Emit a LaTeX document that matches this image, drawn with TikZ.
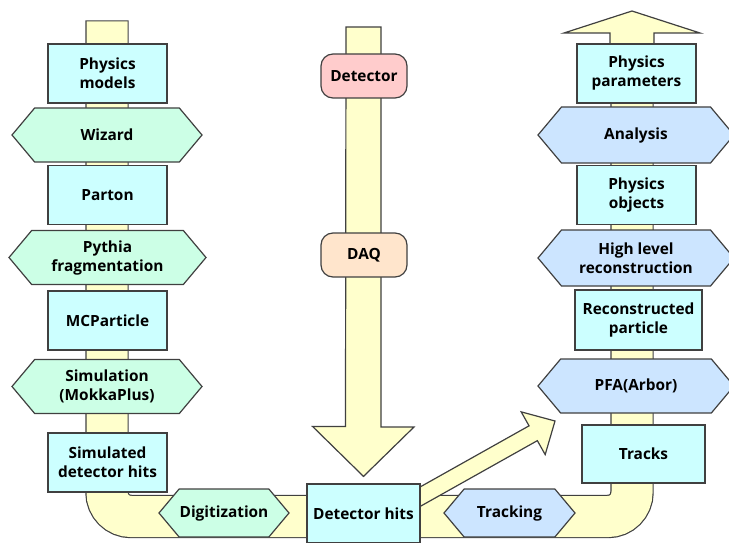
\documentclass[tikz,border=0pt]{standalone}
\usepackage{fontspec}
\setsansfont{Open Sans}
\usetikzlibrary{shapes.symbols,backgrounds,calc}

\definecolor{tubeyellow}{HTML}{FFFFCC}
\definecolor{boxcyan}{HTML}{CCFFFF}
\definecolor{hexgreen}{HTML}{CCFFE6}
\definecolor{hexblue}{HTML}{CCE5FF}
\definecolor{detpink}{HTML}{FFCCCC}
\definecolor{daqpeach}{HTML}{FFE5CC}
\definecolor{edge}{HTML}{404040}

\tikzset{
  txt/.style={font=\sffamily\bfseries\fontsize{15.4}{19}\selectfont},
  box/.style={draw=edge, line width=1.2pt, fill=boxcyan, align=center,
    inner sep=0pt, minimum width=119pt, minimum height=59pt, txt},
  hex/.style={signal, signal to=west and east, signal pointer angle=100,
    draw=edge, line width=1.2pt, align=center, inner sep=0pt,
    minimum width=190pt, minimum height=54pt, txt},
  simhex/.style={hex, fill=hexgreen},
  recohex/.style={hex, fill=hexblue},
  pill/.style={draw=edge, line width=1.2pt, rounded corners=12pt, align=center,
    inner sep=0pt, minimum width=86pt, minimum height=44pt, txt},
  tube/.style={draw=edge, line width=1.2pt, double=tubeyellow,
    double distance=41pt, line cap=rect, rounded corners=24pt},
  bigarrow/.style={draw=edge, line width=1.2pt, fill=tubeyellow, line join=miter},
}

\begin{document}
\begin{tikzpicture}[x=1pt, y=-1pt]

\useasboundingbox (0,0) rectangle (729,543);

% Generator chain (left)
\node[box] (physmod) at (107.5,73.5) {Physics\\models};
\node[simhex] (wizard) at (107,135) {Wizard};
\node[box] (parton) at (107.5,195) {Parton};
\node[simhex, minimum width=197pt] (pythia) at (107.5,257.5) {Pythia\\fragmentation};
\node[box] (mcpart) at (107.5,320.5) {MCParticle};
\node[simhex] (simul) at (107,386.5) {Simulation\\(MokkaPlus)};
\node[box] (simhits) at (107.5,462.5) {Simulated\\detector hits};

% Data taking (middle)
\node[pill, fill=detpink] (detector) at (364,76) {Detector};
\node[pill, fill=daqpeach] (daq) at (364,255) {DAQ};
\node[box, minimum width=113pt] (dhits) at (363.5,513.5) {Detector hits};

% Bottom row
\node[simhex, minimum width=130pt, minimum height=48pt] (digit) at (224,513) {Digitization};
\node[recohex, minimum width=131pt, minimum height=48pt] (tracking) at (509.5,513) {Tracking};

% Reconstruction chain (right)
\node[box] (physpar) at (636.5,73.5) {Physics\\parameters};
\node[recohex, minimum width=196pt, minimum height=56pt] (analysis) at (636,135) {Analysis};
\node[box] (physobj) at (636.5,195) {Physics\\objects};
\node[recohex, minimum width=196pt, minimum height=56pt] (highlvl) at (636,258) {High level\\reconstruction};
\node[box, minimum width=127pt, minimum height=60pt] (recopart) at (638.5,320) {Reconstructed\\particle};
\node[recohex, minimum width=196pt] (pfa) at (636,386) {PFA(Arbor)};
\node[box, minimum width=123pt, minimum height=58pt] (tracks) at (643.5,454) {Tracks};

% Free ends of the flow
\coordinate (tubeL) at (107,42);
\coordinate (tubeB) at (363.5,516.5);
\coordinate (tubeR) at (632,60);
\coordinate (outTip) at (632,11);
\coordinate (daqTop) at (363.5,27);
\coordinate (diagS) at (400,508);
\coordinate (diagT) at (555,421);
\coordinate (diagH) at ($(diagT)!25pt!(diagS)$);

\begin{scope}[on background layer]
  % U-shaped tube
  \draw[tube] (tubeL) |- (tubeB) -| (tubeR);

  % arrow out of the top
  \filldraw[bigarrow] ($(outTip)+(-22,45)$) -- ++(0,-23) -- ++(-46,0)
    -- (outTip) -- ++(68,22) -- ++(-46,0) -- ++(0,23);

  % detector readout arrow
  \filldraw[bigarrow] ($(daqTop)+(-17.5,0)$) -- ++(35,0) -- ++(0,400)
    -- ++(33,0) -- ($(dhits.north)+(0,-7)$) -- ++(-51,-50) -- ++(33,0) -- cycle;

  % arrow from hits towards PFA
  \filldraw[bigarrow] ($(diagS)!8.5pt!90:(diagT)$) -- ($(diagH)!8.5pt!-90:(diagS)$)
    -- ($(diagH)!24.5pt!-90:(diagS)$) -- (diagT)
    -- ($(diagH)!24.5pt!90:(diagS)$) -- ($(diagH)!8.5pt!90:(diagS)$)
    -- ($(diagS)!8.5pt!-90:(diagT)$) -- cycle;
\end{scope}

\end{tikzpicture}
\end{document}
